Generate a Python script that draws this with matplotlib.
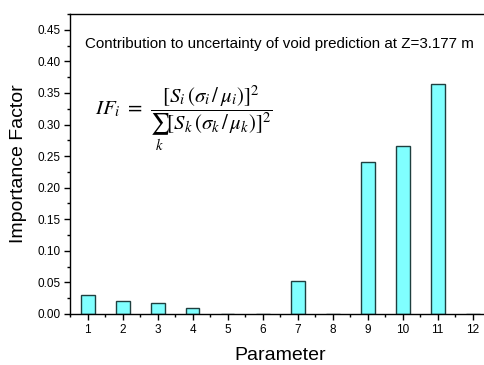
import numpy as np
import matplotlib.pyplot as plt
from matplotlib.ticker import MultipleLocator

plt.rcParams['font.family'] = ['Liberation Sans', 'DejaVu Sans']
plt.rcParams['mathtext.fontset'] = 'stix'

params = np.arange(1, 13)
importance = [0.030, 0.021, 0.018, 0.009, 0.0006, 0.0006, 0.053, 0.0006,
              0.241, 0.266, 0.364, 0.0006]

fig = plt.figure(figsize=(4.84, 3.65), dpi=100)
ax = fig.add_axes([70 / 484, 51 / 365, 420 / 484, 300 / 365])

ax.bar(params, importance, width=0.4, color='#80ffff', edgecolor='#1f3f3f', linewidth=1.0)

ax.set_xlim(0.5, 12.5)
ax.set_ylim(0, 0.475)
ax.set_xticks(params)
ax.xaxis.set_minor_locator(MultipleLocator(0.5))
ax.yaxis.set_major_locator(MultipleLocator(0.05))
ax.yaxis.set_minor_locator(MultipleLocator(0.025))
ax.yaxis.set_major_formatter(plt.FuncFormatter(lambda v, p: f'{v:.2f}'))
ax.tick_params(which='major', direction='out', length=4, width=1, labelsize=8.5, pad=3)
ax.tick_params(which='minor', direction='out', length=2, width=1)
for s in ax.spines.values():
    s.set_linewidth(1.0)

ax.set_xlabel('Parameter', fontsize=14, labelpad=8)
ax.set_ylabel('Importance Factor', fontsize=14, labelpad=7)

fig.text(85 / 484, 1 - 44 / 365, 'Contribution to uncertainty of void prediction at Z=3.177 m',
         fontsize=10.9, va='center', ha='left')
fig.text(95 / 484, 1 - 118 / 365,
         r'$IF_i\ =\ \dfrac{\left[S_i\,(\sigma_i\,/\,\mu_i)\right]^2}'
         r'{\sum_k \left[S_k\,(\sigma_k\,/\,\mu_k)\right]^2}$',
         fontsize=15, va='center', ha='left')

fig.savefig('out.png', dpi=100)
